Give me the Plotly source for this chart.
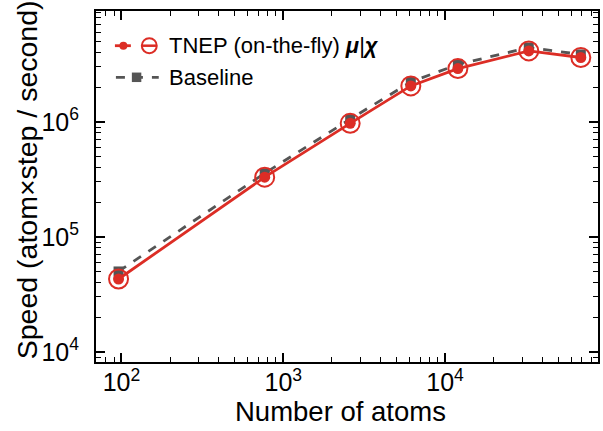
import plotly.graph_objects as go

# ---- data ----
n_atoms = [96, 768, 2592, 6144, 12000, 32900, 69000]
speed_tnep = [4.3e4, 3.30e5, 9.7e5, 2.05e6, 2.90e6, 4.13e6, 3.62e6]
speed_baseline = [5.0e4, 3.57e5, 1.055e6, 2.22e6, 3.15e6, 4.42e6, 3.85e6]
tnep_label = "TNEP (on-the-fly) <b><i>μ</i></b>|<b><i>χ</i></b>"
baseline_label = "Baseline"
x_title = "Number of atoms"
y_title = "Speed (atom×step / second)"

RED = "#dc2d25"
GRAY = "#555555"
FONT = "Liberation Sans, Arial, sans-serif"

W, H = 603, 431
L, R, T, B = 96, 3, 11, 69
PW, PH = W - L - R, H - T - B


def px(x):
    return (x - L) / PW


def py(y):
    return (H - B - y) / PH


fig = go.Figure()
fig.add_trace(go.Scatter(
    x=n_atoms, y=speed_baseline, mode="lines+markers", name=baseline_label,
    line=dict(color=GRAY, width=2.8, dash="dash"),
    marker=dict(symbol="square", size=10, color=GRAY), showlegend=False))
fig.add_trace(go.Scatter(
    x=n_atoms, y=speed_tnep, mode="lines+markers", name=tnep_label,
    line=dict(color=RED, width=2.8),
    marker=dict(symbol="circle", size=11, color=RED), showlegend=False))
fig.add_trace(go.Scatter(
    x=n_atoms, y=speed_tnep, mode="markers", name=tnep_label,
    marker=dict(symbol="circle-open", size=19, color=RED, line=dict(width=2, color=RED)),
    showlegend=False))

axis_common = dict(
    type="log", showgrid=False, zeroline=False,
    showline=True, linecolor="black", linewidth=2, mirror="allticks",
    ticks="inside", ticklen=9, tickwidth=1.5, tickcolor="black",
    exponentformat="power", dtick=1,
    minor=dict(ticks="inside", ticklen=5, tickwidth=1, tickcolor="black", showgrid=False),
    tickfont=dict(family=FONT, size=20, color="black"),
)

fig.update_xaxes(**axis_common, range=[1.843, 4.945], ticklabelstandoff=-2)
fig.update_yaxes(**axis_common, range=[3.912, 6.963], ticklabelstandoff=11)

# manual legend (matplotlib-style tuple handles)
shapes = []
ry, gy = 45.7, 77.3
shapes.append(dict(type="line", xref="paper", yref="paper", x0=px(115), x1=px(131),
                   y0=py(ry), y1=py(ry), line=dict(color=RED, width=2.8)))
shapes.append(dict(type="circle", xref="paper", yref="paper", x0=px(119.5), x1=px(127.5),
                   y0=py(ry + 4), y1=py(ry - 4), fillcolor=RED, line=dict(color=RED, width=0)))
shapes.append(dict(type="circle", xref="paper", yref="paper", x0=px(142), x1=px(157),
                   y0=py(ry + 7.5), y1=py(ry - 7.5), line=dict(color=RED, width=2)))
shapes.append(dict(type="line", xref="paper", yref="paper", x0=px(142), x1=px(157),
                   y0=py(ry), y1=py(ry), line=dict(color=RED, width=2.5)))
shapes.append(dict(type="line", xref="paper", yref="paper", x0=px(116), x1=px(159),
                   y0=py(gy), y1=py(gy), line=dict(color=GRAY, width=2.8, dash="dash")))
shapes.append(dict(type="rect", xref="paper", yref="paper", x0=px(132), x1=px(141.5),
                   y0=py(gy + 4.75), y1=py(gy - 4.75), fillcolor=GRAY, line=dict(width=0)))

annotations = [
    dict(text=tnep_label, xref="paper", yref="paper", x=px(167), y=py(ry),
         xanchor="left", yanchor="middle", showarrow=False,
         font=dict(family=FONT, size=22, color="black")),
    dict(text=baseline_label, xref="paper", yref="paper", x=px(167), y=py(gy),
         xanchor="left", yanchor="middle", showarrow=False,
         font=dict(family=FONT, size=22, color="black")),
    dict(text=x_title, xref="paper", yref="paper", x=px(341), y=py(411),
         xanchor="center", yanchor="middle", showarrow=False,
         font=dict(family=FONT, size=27.5, color="black")),
    dict(text=y_title, xref="paper", yref="paper", x=px(27), y=py(180),
         xanchor="center", yanchor="middle", showarrow=False, textangle=-90,
         font=dict(family=FONT, size=28.5, color="black")),
]

fig.update_layout(
    width=W, height=H,
    margin=dict(l=L, r=R, t=T, b=B),
    paper_bgcolor="white", plot_bgcolor="white",
    shapes=shapes, annotations=annotations,
    showlegend=False,
    font=dict(family=FONT, color="black"),
)

fig.write_html("out.html")
